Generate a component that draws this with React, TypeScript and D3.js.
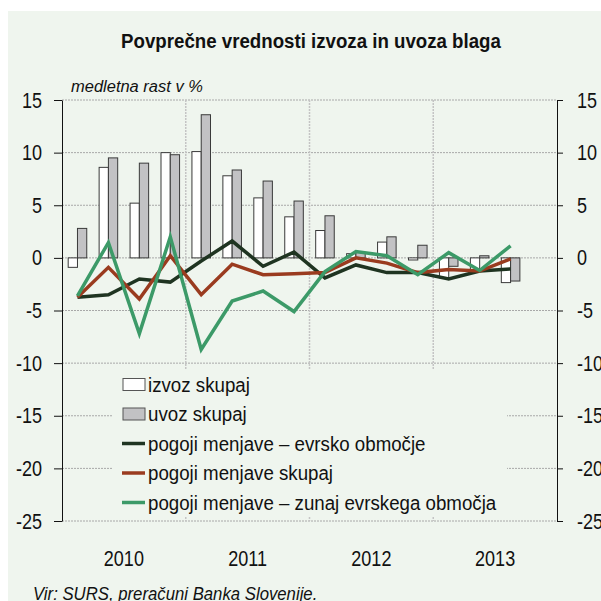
import { useEffect, useRef } from "react";
import * as d3 from "d3";

const quarters = [
  "2010Q1", "2010Q2", "2010Q3", "2010Q4",
  "2011Q1", "2011Q2", "2011Q3", "2011Q4",
  "2012Q1", "2012Q2", "2012Q3", "2012Q4",
  "2013Q1", "2013Q2", "2013Q3", "2013Q4",
];
const years = ["2010", "2011", "2012", "2013"];
const yTicks = [15, 10, 5, 0, -5, -10, -15, -20, -25];

// bars
const izvoz = [-0.9, 8.6, 5.2, 10.0, 10.1, 7.8, 5.7, 3.9, 2.6, 0.4, 1.5, -0.2, -1.9, -1.1, -2.35];
const uvoz = [2.8, 9.5, 9.0, 9.8, 13.6, 8.35, 7.3, 5.4, 4.0, 0.5, 2.0, 1.2, -0.8, 0.2, -2.2];
// lines
const evrsko = [-3.75, -3.5, -2.0, -2.3, -0.3, 1.6, -0.8, 0.55, -1.9, -0.67, -1.4, -1.4, -2.0, -1.25, -1.05];
const skupaj = [-3.75, -0.9, -3.9, 0.2, -3.5, -0.6, -1.6, -1.5, -1.4, 0.0, -0.5, -1.4, -1.1, -1.25, -0.1];
const zunaj = [-3.6, 1.45, -7.2, 2.0, -8.7, -4.1, -3.15, -5.1, -1.3, 0.6, 0.2, -1.6, 0.5, -1.2, 1.15];

const BG = "#eff5ee";
const FONT = "'Liberation Sans Narrow', 'Arial Narrow', 'Liberation Sans', sans-serif";
const NARROW = 0.82; // no narrow face installed, squeeze the regular one

const left = 62;
const right = 557;
const top = 100;
const bottom = 521;

function Label({
  x,
  y,
  sx,
  size,
  anchor = "start",
  bold = false,
  italic = false,
  children,
}: {
  x: number;
  y: number;
  sx: number;
  size: number;
  anchor?: string;
  bold?: boolean;
  italic?: boolean;
  children: string;
}) {
  return (
    <text
      transform={`translate(${x},${y}) scale(${sx},1)`}
      textAnchor={anchor}
      fontFamily={FONT}
      fontSize={size}
      fontWeight={bold ? "bold" : "normal"}
      fontStyle={italic ? "italic" : "normal"}
      fill="#111"
    >
      {children}
    </text>
  );
}

function Axis({ side }: { side: "left" | "right" }) {
  const ref = useRef<SVGGElement>(null);
  const y = d3.scaleLinear().domain([-25, 15]).range([bottom, top]);
  useEffect(() => {
    if (!ref.current) return;
    const axis =
      side === "left"
        ? d3.axisLeft(y).tickValues(yTicks).tickSize(8).tickPadding(12)
        : d3.axisRight(y).tickValues(yTicks).tickSize(6).tickPadding(14);
    const g = d3.select(ref.current);
    g.call(axis.tickSizeOuter(0).tickFormat((d) => String(d)));
    g.attr("font-family", null).attr("font-size", null);
    g.selectAll<SVGTextElement, number>("text")
      .attr("font-family", FONT)
      .attr("font-size", 22)
      .attr("fill", "#111")
      .attr("x", function () {
        return +(this.getAttribute("x") || 0) / NARROW;
      })
      .attr("transform", `scale(${NARROW},1)`);
    g.selectAll("line, path").attr("stroke", "#111");
  }, [side]);
  return (
    <g ref={ref} transform={`translate(${side === "left" ? left : right},0)`} />
  );
}

export default function App() {
  const x = d3
    .scaleBand<string>()
    .domain(quarters)
    .range([left, right])
    .paddingInner(0.4)
    .paddingOuter(0.2);
  const sub = d3
    .scaleBand<string>()
    .domain(["izvoz", "uvoz"])
    .range([0, x.bandwidth()]);
  const xYear = d3.scaleBand<string>().domain(years).range([left, right]);
  const y = d3.scaleLinear().domain([-25, 15]).range([bottom, top]);

  const cx = (i: number) => (x(quarters[i]) as number) + x.bandwidth() / 2;
  const line = d3
    .line<number>()
    .x((_, i) => cx(i))
    .y((d) => y(d));

  const lineSeries = [
    { name: "pogoji menjave – evrsko območje", data: evrsko, color: "#1f3421" },
    { name: "pogoji menjave skupaj", data: skupaj, color: "#9a3b1f" },
    { name: "pogoji menjave – zunaj evrskega območja", data: zunaj, color: "#3c9a68" },
  ];
  const barSeries = [
    { key: "izvoz", name: "izvoz skupaj", data: izvoz, fill: "#ffffff" },
    { key: "uvoz", name: "uvoz skupaj", data: uvoz, fill: "#c2c2c4" },
  ];

  const legendX = 123;
  const legendY = 384.5;
  const legendStep = 29.5;

  return (
    <svg
      width={601}
      height={601}
      style={{ position: "fixed", left: 0, top: 0 }}
    >
      <rect x={0} y={0} width={601} height={601} fill="#fff" />
      <rect x={8} y={11} width={593} height={590} fill={BG} />

      <Label x={311} y={48} sx={0.89} size={21} anchor="middle" bold>
        Povprečne vrednosti izvoza in uvoza blaga
      </Label>
      <Label x={71} y={92} sx={0.97} size={17} italic>
        medletna rast v %
      </Label>

      {/* gridlines */}
      {yTicks.map((t) => (
        <line
          key={`h${t}`}
          x1={left}
          x2={right}
          y1={y(t)}
          y2={y(t)}
          stroke="#a8a8a8"
          strokeWidth={1}
          strokeDasharray="2,1"
        />
      ))}
      {years.slice(1).map((yr) => (
        <line
          key={`v${yr}`}
          x1={xYear(yr)}
          x2={xYear(yr)}
          y1={top}
          y2={bottom}
          stroke="#c4c4c4"
          strokeWidth={1.5}
          strokeDasharray="2,1"
        />
      ))}

      {/* bars */}
      {barSeries.map((s) =>
        s.data.map((v, i) => (
          <rect
            key={`${s.key}${i}`}
            x={(x(quarters[i]) as number) + (sub(s.key) as number)}
            y={y(Math.max(0, v))}
            width={sub.bandwidth()}
            height={Math.abs(y(v) - y(0))}
            fill={s.fill}
            stroke="#3a3a3a"
            strokeWidth={1}
          />
        ))
      )}

      {/* lines */}
      {lineSeries.map((s) => (
        <path
          key={s.name}
          d={line(s.data) as string}
          fill="none"
          stroke={s.color}
          strokeWidth={3.5}
          strokeLinejoin="miter"
        />
      ))}

      <Axis side="left" />
      <Axis side="right" />

      {/* legend */}
      <rect x={113} y={369} width={394} height={148} fill={BG} />
      {barSeries.map((s, i) => (
        <g key={s.key} transform={`translate(${legendX},${legendY + i * legendStep})`}>
          <rect x={0} y={-6} width={22} height={12} fill={s.fill} stroke="#555" strokeWidth={1} />
          <Label x={25} y={7} sx={0.935} size={20}>
            {s.name}
          </Label>
        </g>
      ))}
      {lineSeries.map((s, i) => (
        <g
          key={s.name}
          transform={`translate(${legendX},${legendY + (i + 2) * legendStep})`}
        >
          <line x1={-1} x2={22} y1={0} y2={0} stroke={s.color} strokeWidth={3.5} />
          <Label x={25} y={7} sx={0.935} size={20}>
            {s.name}
          </Label>
        </g>
      ))}

      {/* year labels */}
      {years.map((yr) => (
        <Label
          key={yr}
          x={(xYear(yr) as number) + xYear.bandwidth() / 2}
          y={566}
          sx={NARROW}
          size={22}
          anchor="middle"
        >
          {yr}
        </Label>
      ))}

      <Label x={33} y={600} sx={0.93} size={18} italic>
        Vir: SURS, preračuni Banka Slovenije.
      </Label>
    </svg>
  );
}
